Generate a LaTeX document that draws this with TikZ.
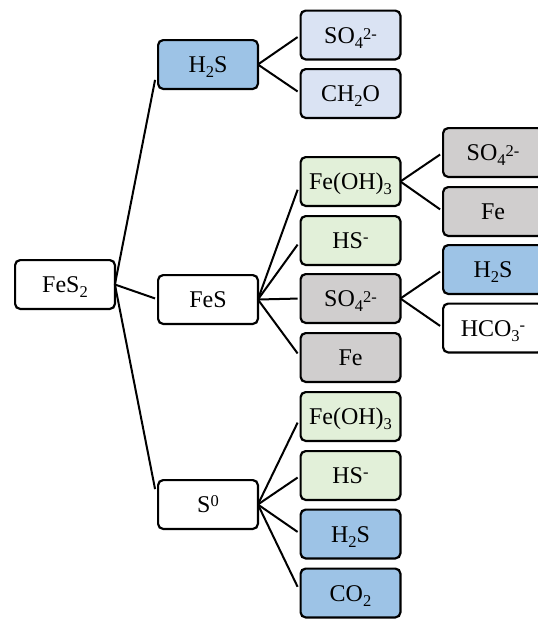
\documentclass[tikz,border=0pt]{standalone}
\usepackage{fontspec}
\setmainfont{Liberation Serif}
\usetikzlibrary{calc}
\definecolor{bluedark}{HTML}{9DC3E6}
\definecolor{bluelight}{HTML}{DAE3F3}
\definecolor{greenlight}{HTML}{E2F0D9}
\definecolor{graylight}{HTML}{D0CECE}
\tikzset{
  box/.style={draw=black, line width=2.2pt, rounded corners=5pt, minimum width=99.8pt, minimum height=48.8pt, inner sep=0pt, outer sep=0pt, text height=16pt, text depth=0pt, font=\fontsize{24}{28}\selectfont, fill=white},
  bdark/.style={box, fill=bluedark},
  blight/.style={box, fill=bluelight},
  gbox/.style={box, fill=greenlight},
  grbox/.style={box, fill=graylight},
  conn/.style={draw=black, line width=2pt},
}
\newcommand{\sub}[1]{\raisebox{-5pt}{\fontsize{16.5}{16.5}\selectfont #1}}
\newcommand{\sups}[2][6pt]{\raisebox{#1}{\fontsize{16.5}{16.5}\selectfont #2}}
\begin{document}
\begin{tikzpicture}[x=1pt, y=-1pt]
\clip (0,0) rectangle (538,622);
\fill[white] (0,0) rectangle (538,622);
% level 0
\node[box] (fes2) at (65,284.5) {FeS\sub{2}};
% level 1
\node[bdark] (h2s) at (208,64.5) {H\sub{2}S};
\node[box] (fes) at (208,299.5) {FeS};
\node[box] (s0) at (208,504.5) {S\sups{0}};
% level 2
\node[blight] (so4a) at (350.5,35) {SO\sub{4}\sups[4pt]{2-}};
\node[blight] (ch2o) at (350.5,93.5) {CH\sub{2}O};
\node[gbox] (feoh) at (350.5,181.5) {Fe(OH)\sub{3}};
\node[gbox] (hs) at (350.5,240.5) {HS\sups{-}};
\node[grbox] (so4b) at (350.5,298.5) {SO\sub{4}\sups[4pt]{2-}};
\node[grbox] (fe) at (350.5,357.5) {Fe};
\node[gbox] (feohb) at (350.5,416.5) {Fe(OH)\sub{3}};
\node[gbox] (hsb) at (350.5,475.5) {HS\sups{-}};
\node[bdark] (h2sb) at (350.5,534) {H\sub{2}S};
\node[bdark] (co2) at (350.5,593) {CO\sub{2}};
% level 3
\node[grbox] (so4c) at (493,152.5) {SO\sub{4}\sups[4pt]{2-}};
\node[grbox] (fec) at (493,211.5) {Fe};
\node[bdark] (h2sc) at (493,269.5) {H\sub{2}S};
\node[box] (hco3) at (493,328) {HCO\sub{3}\sups{-}};
% connectors
\foreach \p/\c in {fes2/h2s, fes2/fes, fes2/s0,
  h2s/so4a, h2s/ch2o,
  fes/feoh, fes/hs, fes/so4b, fes/fe,
  s0/feohb, s0/hsb, s0/h2sb, s0/co2,
  feoh/so4c, feoh/fec,
  so4b/h2sc, so4b/hco3}
  \draw[conn] (\p.east) -- ($(\p.east)!0.93!(\c.west)$);
\end{tikzpicture}
\end{document}
